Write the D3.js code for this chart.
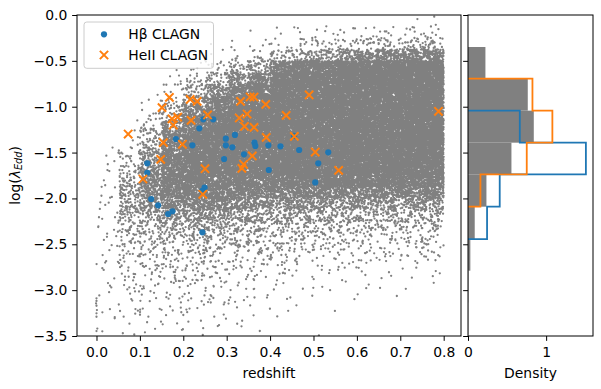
<!DOCTYPE html>
<html lang="en">
<head>
<meta charset="UTF-8">
<title>CLAGN Eddington ratio vs redshift</title>
<style>
  body { margin: 0; overflow: hidden; background: #fff; }
  text { font-family: "DejaVu Sans", sans-serif; fill: #000; }
</style>
</head>
<body>
<script src="https://cdnjs.cloudflare.com/ajax/libs/d3/7.8.2/d3.min.js"></script>
<script>
// H-beta CLAGN
const hbZ = [0.117, 0.117, 0.126, 0.142, 0.165, 0.175, 0.183, 0.221, 0.237, 0.246, 0.269, 0.249, 0.243, 0.244, 0.294,
             0.298, 0.298, 0.313, 0.319, 0.340, 0.364, 0.366, 0.396, 0.397, 0.424, 0.455, 0.467, 0.511, 0.534, 0.504];
const hbL = [-1.617, -1.72, -2.006, -2.075, -2.17, -2.14, -1.352, -1.421, -1.236, -1.138, -1.138, -1.883, -1.92, -2.37, -1.57,
             -1.349, -1.421, -1.443, -1.308, -1.519, -1.392, -1.428, -1.421, -1.69, -1.432, -1.319, -1.472, -1.617, -1.497, -1.825];

// HeII CLAGN
const heZ = [0.073, 0.107, 0.148, 0.151, 0.154, 0.168, 0.174, 0.187, 0.177, 0.198, 0.216, 0.232, 0.218, 0.245, 0.250, 0.256, 0.332,
             0.354, 0.363, 0.347, 0.329, 0.341, 0.363, 0.359, 0.339, 0.335, 0.390, 0.391, 0.437, 0.456, 0.490, 0.504, 0.558, 0.788];
const heL = [-1.298, -1.788, -1.574, -1.01, -1.392, -0.898, -1.133, -1.114, -1.2, -1.41, -0.92, -0.942, -1.149, -1.955, -1.676, -1.09, -0.942,
             -0.894, -0.894, -1.08, -1.123, -1.214, -1.225, -1.537, -1.628, -1.672, -0.974, -1.334, -1.094, -1.323, -0.872, -1.494, -1.694, -1.05];

// parent sample: number of objects per cell (redshift bin x log lambda bin)
const zEdges = [0, 0.05, 0.1, 0.15, 0.2, 0.25, 0.3, 0.35, 0.4, 0.45, 0.5, 0.55, 0.6, 0.65, 0.7, 0.75, 0.8];
const lEdges = [0, -0.125, -0.25, -0.375, -0.5, -0.625, -0.75, -0.875, -1, -1.125, -1.25, -1.375, -1.5, -1.625, -1.75,
                -1.875, -2, -2.125, -2.25, -2.375, -2.5, -2.625, -2.75, -2.875, -3, -3.125, -3.25, -3.375, -3.5];
const cloudCounts = [
  [0,0,0,0,0,0,0,0,0,0,0,1,2,3,3,4,4,4,4,4,4,4,3,3,2,2,2,2],
  [0,0,0,0,0,0,0,0,0,1,3,6,14,24,36,42,42,34,24,18,14,11,8,7,5,4,3,2],
  [0,0,0,0,0,0,1,3,8,16,28,48,68,90,105,105,75,46,30,22,16,12,9,8,6,5,4,2],
  [0,0,0,0,1,3,8,18,40,72,115,160,190,205,205,175,115,62,38,25,18,13,10,8,6,5,3,2],
  [0,0,0,1,4,12,32,70,130,190,230,245,245,245,230,200,140,80,42,28,20,14,10,8,6,5,3,2],
  [0,0,1,3,10,32,85,160,215,255,270,270,270,255,230,185,125,68,40,26,18,13,9,7,5,4,3,2],
  [0,0,2,6,26,70,145,215,270,285,285,285,270,255,215,160,100,56,34,22,15,10,7,5,4,3,2,1],
  [0,1,4,12,45,130,215,270,300,300,300,285,270,245,200,145,90,50,31,20,14,9,6,4,3,2,1,1],
  [0,2,5,25,150,255,300,310,310,310,310,310,300,270,230,145,80,44,26,18,14,10,6,4,2,1,1,0],
  [0,3,10,40,220,300,310,310,310,310,310,310,310,300,230,145,80,44,26,17,10,6,3,2,1,1,0,0],
  [1,4,12,50,235,305,310,310,310,310,310,310,310,300,230,145,75,40,24,15,9,5,3,2,1,1,0,1],
  [0,5,15,75,265,310,310,310,310,310,310,310,310,300,230,140,70,37,22,14,8,5,3,2,1,0,0,0],
  [0,5,18,100,280,310,310,310,310,310,310,310,310,300,230,140,70,35,21,13,8,5,3,2,1,0,0,0],
  [0,6,22,115,295,310,310,310,310,310,310,310,310,300,220,130,66,34,20,13,8,4,3,1,1,0,0,0],
  [1,7,25,130,295,310,310,310,310,310,310,310,310,300,220,130,66,34,20,13,8,4,3,1,0,0,0,0],
  [2,8,28,130,295,310,310,310,310,310,310,310,310,300,220,130,66,34,20,14,9,5,3,1,0,0,0,0]
];
// the short column of objects sitting at redshift ~0
const zeroZ = [0.000, 0.000, -0.001, 0.000, 0.001, 0.000, 0.000, 0.000];
const zeroL = [-3.089, -3.118, -3.144, -3.170, -3.217, -3.253, -3.290, -3.446];

// histogram (density), bins from bottom to top
const histEdges = [-3.484, -3.136, -2.788, -2.443, -2.09, -1.737, -1.392, -1.043, -0.694, -0.349];
const allDensity = [0.004, 0.006, 0.03, 0.086, 0.236, 0.556, 0.842, 0.765, 0.223];
const hbDensity = [0, 0, 0, 0.244, 0.406, 1.509, 0.663, 0, 0];
const heDensity = [0, 0, 0, 0, 0.159, 0.752, 1.08, 0.825, 0];

const xTicks = [0, 0.1, 0.2, 0.3, 0.4, 0.5, 0.6, 0.7, 0.8];
const yTicks = [0, -0.5, -1, -1.5, -2, -2.5, -3, -3.5];
const hTicks = [0, 1];

const blue = '#1f77b4', orange = '#ff7f0e', grey = '#808080';
const fs = 13.9, tick = 4.86;

const svg = d3.select('body').append('svg')
  .attr('width', 601).attr('height', 389);

const x = d3.scaleLinear().domain([-0.0449, 0.8399]).range([77, 461]);
const y = d3.scaleLinear().domain([-3.5, 0]).range([336, 15]);
const xh = d3.scaleLinear().domain([0, 1.6]).range([468, 593]);

svg.append('clipPath').attr('id', 'main')
  .append('rect').attr('x', 77).attr('y', 15).attr('width', 384).attr('height', 321);

// grey cloud: each cell's count scattered inside the cell (fixed hash, same every run)
function frac(n) { const s = Math.sin(n * 12.9898 + 78.233) * 43758.5453; return s - Math.floor(s); }
const r = 1.15;
const dot = (px, py) => `M${(px - r).toFixed(2)},${py.toFixed(2)}a${r},${r} 0 1,0 ${2 * r},0a${r},${r} 0 1,0 ${-2 * r},0`;
let g = 0, d = '';
cloudCounts.forEach((col, ci) => {
  col.forEach((n, ri) => {
    for (let k = 0; k < n; k++, g++) {
      const u = frac(2 * g + 1), v = frac(2 * g + 2);
      d += dot(x(zEdges[ci] + u * (zEdges[ci + 1] - zEdges[ci])),
               y(lEdges[ri] + v * (lEdges[ri + 1] - lEdges[ri])));
    }
  });
});
zeroZ.forEach((z, i) => { d += dot(x(z), y(zeroL[i])); });
svg.append('path').attr('d', d).attr('fill', grey).attr('clip-path', 'url(#main)');

const hb = d3.zip(hbZ, hbL), he = d3.zip(heZ, heL);
svg.append('g').selectAll('circle').data(hb).join('circle')
  .attr('cx', p => x(p[0])).attr('cy', p => y(p[1])).attr('r', 3.1).attr('fill', blue);

const cross = 'M-4.15,-4.15L4.15,4.15M-4.15,4.15L4.15,-4.15';
svg.append('g').selectAll('path').data(he).join('path')
  .attr('transform', p => `translate(${x(p[0])},${y(p[1])})`)
  .attr('d', cross).attr('stroke', orange).attr('stroke-width', 2).attr('fill', 'none');

// legend
const lg = svg.append('g');
lg.append('rect').attr('x', 84).attr('y', 22).attr('width', 129.5).attr('height', 46.3).attr('rx', 2.8)
  .attr('fill', 'white').attr('fill-opacity', 0.8).attr('stroke', '#cccccc').attr('stroke-width', 1);
lg.append('circle').attr('cx', 104).attr('cy', 34.3).attr('r', 3.1).attr('fill', blue);
lg.append('path').attr('transform', 'translate(104,55)').attr('d', cross)
  .attr('stroke', orange).attr('stroke-width', 2).attr('fill', 'none');
lg.append('text').attr('x', 128.3).attr('y', 39.2).style('font-size', fs + 'px').text('Hβ CLAGN');
lg.append('text').attr('x', 128.3).attr('y', 59.9).style('font-size', fs + 'px').text('HeII CLAGN');

// histogram panel
const bins = d3.range(allDensity.length);
svg.append('g').selectAll('rect').data(bins).join('rect')
  .attr('x', xh(0)).attr('y', i => y(histEdges[i + 1]))
  .attr('width', i => xh(allDensity[i]) - xh(0))
  .attr('height', i => y(histEdges[i]) - y(histEdges[i + 1]))
  .attr('fill', grey);

// step outline over the non-empty bins only
function stepPts(dens) {
  const idx = bins.filter(i => dens[i] > 0);
  const lo = d3.min(idx), hi = d3.max(idx);
  const pts = [[0, histEdges[lo]]];
  for (let i = lo; i <= hi; i++) pts.push([dens[i], histEdges[i]], [dens[i], histEdges[i + 1]]);
  pts.push([0, histEdges[hi + 1]]);
  return pts;
}
const step = d3.line().x(p => xh(p[0])).y(p => y(p[1]));
[[hbDensity, blue], [heDensity, orange]].forEach(([dens, c]) => {
  svg.append('path').attr('d', step(stepPts(dens)))
    .attr('fill', 'none').attr('stroke', c).attr('stroke-width', 1.8);
});

// axes
function styleAxis(sel) {
  sel.select('.domain').remove();
  sel.selectAll('line').attr('stroke', '#000').attr('stroke-width', 1);
  sel.selectAll('text').style('font-size', fs + 'px').style('font-family', '"DejaVu Sans", sans-serif').attr('fill', '#000');
}
svg.append('g').attr('transform', 'translate(0,336)')
  .call(d3.axisBottom(x).tickValues(xTicks).tickFormat(d3.format('.1f')).tickSize(tick).tickPadding(6.3).tickSizeOuter(0))
  .call(styleAxis);
svg.append('g').attr('transform', 'translate(77,0)')
  .call(d3.axisLeft(y).tickValues(yTicks).tickFormat(d3.format('.1f')).tickSize(tick).tickPadding(tick).tickSizeOuter(0))
  .call(styleAxis);
svg.append('g').attr('transform', 'translate(0,336)')
  .call(d3.axisBottom(xh).tickValues(hTicks).tickFormat(d3.format('d')).tickSize(tick).tickPadding(6.3).tickSizeOuter(0))
  .call(styleAxis);
svg.append('g').attr('transform', 'translate(468,0)')
  .call(d3.axisLeft(y).tickValues(yTicks).tickFormat('').tickSize(tick).tickSizeOuter(0))
  .call(styleAxis);

// spines
[[77, 461], [468, 593]].forEach(([a, b]) => {
  svg.append('rect').attr('x', a).attr('y', 15).attr('width', b - a).attr('height', 321)
    .attr('fill', 'none').attr('stroke', '#000').attr('stroke-width', 1);
});

// axis labels
svg.append('text').attr('x', 269).attr('y', 377.5).attr('text-anchor', 'middle')
  .style('font-size', fs + 'px').text('redshift');
svg.append('text').attr('x', 530.5).attr('y', 377.5).attr('text-anchor', 'middle')
  .style('font-size', fs + 'px').text('Density');

const yl = svg.append('text').attr('transform', 'translate(19.5,175.5) rotate(-90)')
  .attr('text-anchor', 'middle').style('font-size', fs + 'px');
yl.append('tspan').text('log(');
yl.append('tspan').style('font-style', 'italic').text('λ');
yl.append('tspan').style('font-style', 'italic').style('font-size', '9.7px').attr('dy', 2.6).text('Edd');
yl.append('tspan').attr('dy', -2.6).text(')');
</script>
</body>
</html>
